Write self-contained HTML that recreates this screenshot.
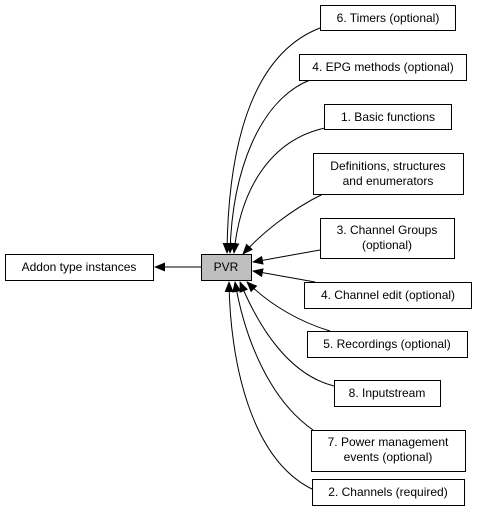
<!DOCTYPE html>
<html><head><style>
body{margin:0;background:#fff}
svg{display:block}
text{font-family:"Liberation Sans",Arial,sans-serif;font-size:12px;fill:#000}
</style></head><body>
<svg width="481" height="527" viewBox="0 0 481 527" xmlns="http://www.w3.org/2000/svg">
<defs><marker id="a" markerWidth="11" markerHeight="9" refX="10" refY="4.5" orient="auto" markerUnits="userSpaceOnUse"><path d="M0,0 L11,4.5 L0,9 Z" fill="#000"/></marker></defs>
<g fill="none" stroke="#000" stroke-width="1">
<path d="M320,28 C250,55 228,150 227,253" marker-end="url(#a)"/>
<path d="M310,80 C260,100 232,170 230,253" marker-end="url(#a)"/>
<path d="M325,128 C270,140 240,190 234,253" marker-end="url(#a)"/>
<path d="M323,194 C290,210 260,235 243,254" marker-end="url(#a)"/>
<path d="M320,250 L253,262" marker-end="url(#a)"/>
<path d="M315,282 L253,271" marker-end="url(#a)"/>
<path d="M330,331 C300,322 270,305 247,282" marker-end="url(#a)"/>
<path d="M334,386 C290,375 260,330 240,282" marker-end="url(#a)"/>
<path d="M313,430 C270,400 245,340 235,282" marker-end="url(#a)"/>
<path d="M314,490 C250,460 230,360 229,282" marker-end="url(#a)"/>
<path d="M201,267 L155,267" marker-end="url(#a)"/>
</g>
<g stroke="#000" stroke-width="1" fill="#fff">
<rect x="320.5" y="5.5" width="135" height="25"/>
<rect x="299.5" y="54.5" width="167" height="26"/>
<rect x="324.5" y="104.5" width="127" height="25"/>
<rect x="313.5" y="153.5" width="150" height="41"/>
<rect x="320.5" y="218.5" width="134" height="40"/>
<rect x="5.5" y="254.5" width="148" height="26"/>
<rect x="201.5" y="254.5" width="50" height="26" fill="#bfbfbf"/>
<rect x="304.5" y="282.5" width="167" height="26"/>
<rect x="307.5" y="331.5" width="160" height="26"/>
<rect x="334.5" y="380.5" width="106" height="26"/>
<rect x="311.5" y="430.5" width="154" height="41"/>
<rect x="312.5" y="479.5" width="152" height="26"/>
</g>
<g text-anchor="middle">
<text x="388" y="22">6. Timers (optional)</text>
<text x="383" y="71">4. EPG methods (optional)</text>
<text x="388" y="121">1. Basic functions</text>
<text x="388" y="170">Definitions, structures</text>
<text x="388" y="185">and enumerators</text>
<text x="387" y="234">3. Channel Groups</text>
<text x="387" y="249">(optional)</text>
<text x="79" y="271">Addon type instances</text>
<text x="226" y="271">PVR</text>
<text x="388" y="299">4. Channel edit (optional)</text>
<text x="387" y="348">5. Recordings (optional)</text>
<text x="387" y="397">8. Inputstream</text>
<text x="388" y="446">7. Power management</text>
<text x="388" y="461">events (optional)</text>
<text x="388" y="496">2. Channels (required)</text>
</g>
</svg>
</body></html>
